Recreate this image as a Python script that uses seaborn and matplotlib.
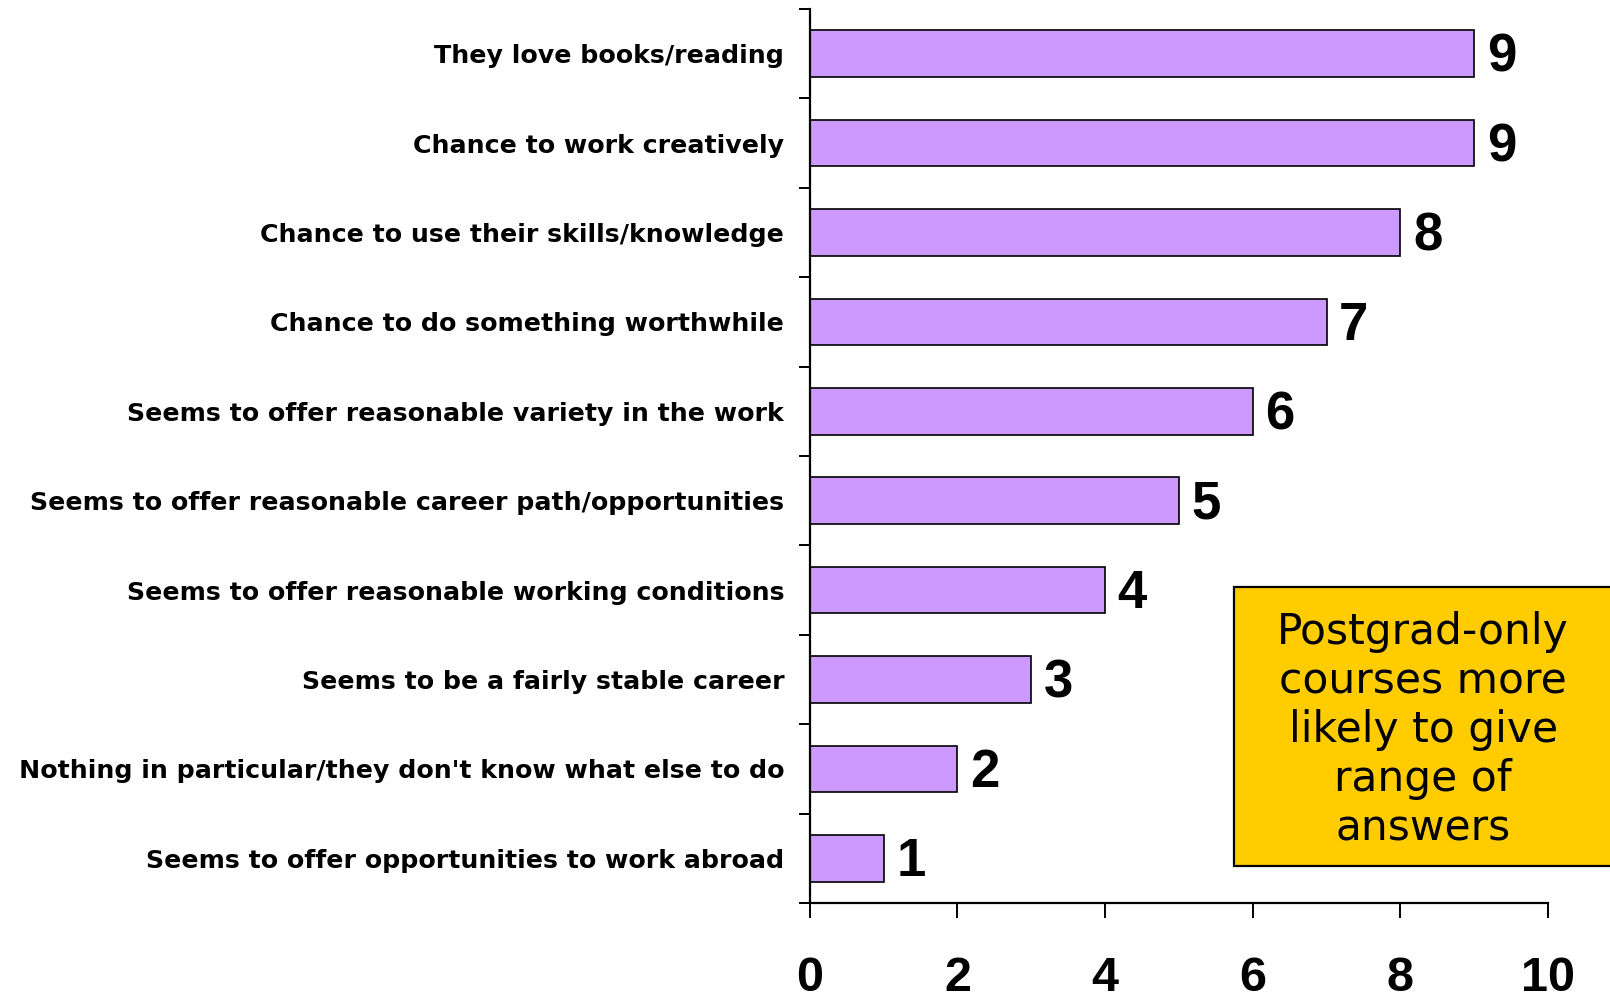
import matplotlib
matplotlib.use("Agg")
import matplotlib.pyplot as plt
from matplotlib.patches import Rectangle
import seaborn as sns
import pandas as pd
import numpy as np

reasons = [
    "They love books/reading",
    "Chance to work creatively",
    "Chance to use their skills/knowledge",
    "Chance to do something worthwhile",
    "Seems to offer reasonable variety in the work",
    "Seems to offer reasonable career path/opportunities",
    "Seems to offer reasonable working conditions",
    "Seems to be a fairly stable career",
    "Nothing in particular/they don't know what else to do",
    "Seems to offer opportunities to work abroad",
]
counts = [9, 9, 8, 7, 6, 5, 4, 3, 2, 1]
x_ticks = [0, 2, 4, 6, 8, 10]
note = "Postgrad-only\ncourses more\nlikely to give\nrange of\nanswers"

df = pd.DataFrame({"reason": reasons, "count": counts})

sns.set_theme(style="white")
plt.rcParams["font.family"] = ["DejaVu Sans"]
plt.rcParams["text.color"] = "black"
plt.rcParams["xtick.color"] = "black"
plt.rcParams["ytick.color"] = "black"

fig = plt.figure(figsize=(16.1, 9.98), dpi=100)
ax = fig.add_axes([0.503, 0.0952, 0.4585, 0.8958])

sns.barplot(data=df, x="count", y="reason", orient="h", color="#CC99FF",
            saturation=1, width=0.52, edgecolor="black", linewidth=1.2, ax=ax)

ax.set_xlim(0, 10)
ax.set_ylim(len(reasons) - 0.5, -0.5)
ax.set_xlabel("")
ax.set_ylabel("")

for s in ["top", "right"]:
    ax.spines[s].set_visible(False)
for s in ["left", "bottom"]:
    ax.spines[s].set_color("black")
    ax.spines[s].set_linewidth(1.6)

# category labels without marks; marks sit between categories
ax.tick_params(axis="y", which="major", length=0, pad=18.5)
ax.set_yticks(np.arange(len(reasons) + 1) - 0.5, minor=True)
ax.tick_params(axis="y", which="minor", length=8, width=1.4, color="black",
               direction="out", left=True)
for lbl in ax.get_yticklabels():
    lbl.set_fontweight("bold")
    lbl.set_fontsize(18.2)
    lbl.set_color("black")

ax.set_xticks(x_ticks)
ax.set_xticklabels([str(t) for t in x_ticks], fontsize=35, fontweight="bold",
                   family="Liberation Sans", color="black")
ax.tick_params(axis="x", length=11, width=1.4, color="black", direction="out",
               bottom=True, pad=27)

for i, v in enumerate(counts):
    ax.annotate(str(v), xy=(v, i), xytext=(9, -3), textcoords="offset points",
                ha="left", va="center", fontsize=38, fontweight="bold",
                family="Liberation Sans", color="black")

# yellow note box running off the right edge
fig.patches.append(Rectangle((0.7665, 0.1323), 0.26, 0.2795,
                             transform=fig.transFigure, facecolor="#FFCC00",
                             edgecolor="black", linewidth=1.6, zorder=1))
fig.text(0.884, 0.2685, note, ha="center", va="center",
         fontsize=30.5, linespacing=1.22, color="black", zorder=2)

fig.savefig("out.png", dpi=100)
